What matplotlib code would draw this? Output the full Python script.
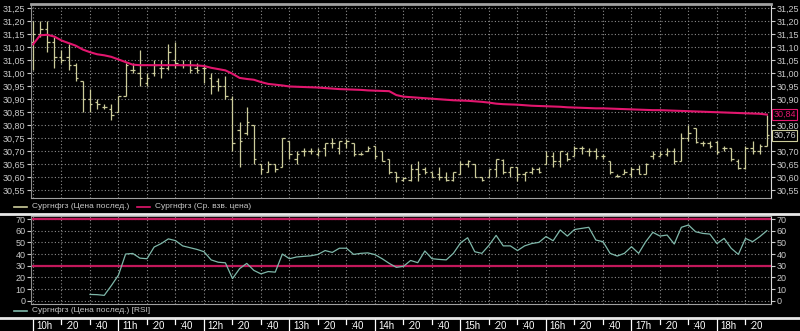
import numpy as np
import matplotlib.pyplot as plt
from matplotlib.lines import Line2D
from matplotlib.ticker import FuncFormatter, MultipleLocator

# --- data: 5-minute bars from 10:00 ---
bar_open = [31.12, 31.15, 31.17, 31.12, 31.06, 31.06, 31.03, 30.97, 30.90, 30.89,
            30.87, 30.86, 30.85, 30.91, 31.01, 31.00, 30.96, 31.00, 31.02, 31.02,
            31.05, 31.03, 31.03, 31.02, 31.02, 30.98, 30.97, 30.95, 30.90, 30.78,
            30.77, 30.80, 30.65, 30.62, 30.65, 30.64, 30.74, 30.67, 30.70, 30.70,
            30.69, 30.71, 30.73, 30.71, 30.73, 30.73, 30.69, 30.70, 30.72, 30.70,
            30.67, 30.62, 30.59, 30.59, 30.63, 30.63, 30.62, 30.61, 30.60, 30.59,
            30.61, 30.65, 30.65, 30.60, 30.60, 30.63, 30.665, 30.62, 30.64, 30.61,
            30.62, 30.63, 30.65, 30.68, 30.66, 30.69, 30.68, 30.71, 30.70, 30.70,
            30.68, 30.66, 30.605, 30.61, 30.61, 30.63, 30.61, 30.68, 30.68, 30.69,
            30.70, 30.66, 30.75, 30.79, 30.73, 30.73, 30.735, 30.71, 30.71, 30.66,
            30.635, 30.71, 30.70, 30.72]
bar_high = [31.20, 31.20, 31.20, 31.14, 31.09, 31.11, 31.04, 30.97, 30.94, 30.90,
            30.88, 30.88, 30.91, 31.04, 31.04, 31.09, 31.00, 31.05, 31.05, 31.11,
            31.12, 31.05, 31.05, 31.04, 31.03, 31.00, 30.98, 30.99, 30.91, 30.81,
            30.87, 30.80, 30.65, 30.66, 30.65, 30.75, 30.74, 30.70, 30.71, 30.71,
            30.71, 30.73, 30.75, 30.74, 30.745, 30.73, 30.695, 30.72, 30.72, 30.70,
            30.67, 30.62, 30.60, 30.65, 30.66, 30.64, 30.62, 30.64, 30.62, 30.62,
            30.66, 30.665, 30.65, 30.60, 30.63, 30.67, 30.67, 30.64, 30.64, 30.62,
            30.64, 30.64, 30.70, 30.695, 30.70, 30.695, 30.72, 30.72, 30.71, 30.71,
            30.69, 30.66, 30.61, 30.63, 30.64, 30.645, 30.655, 30.70, 30.70, 30.71,
            30.71, 30.77, 30.80, 30.79, 30.74, 30.74, 30.74, 30.72, 30.71, 30.67,
            30.72, 30.74, 30.725, 30.84]
bar_low = [31.01, 31.14, 31.08, 31.02, 31.04, 31.01, 30.97, 30.85, 30.85, 30.86,
           30.86, 30.82, 30.85, 30.91, 31.00, 30.95, 30.95, 30.99, 30.98, 31.01,
           31.02, 31.02, 31.00, 31.00, 30.96, 30.92, 30.93, 30.90, 30.70, 30.64,
           30.76, 30.65, 30.61, 30.62, 30.62, 30.64, 30.67, 30.65, 30.68, 30.69,
           30.68, 30.68, 30.71, 30.69, 30.71, 30.68, 30.685, 30.70, 30.67, 30.66,
           30.61, 30.58, 30.585, 30.585, 30.585, 30.61, 30.60, 30.59, 30.585, 30.585,
           30.61, 30.64, 30.60, 30.585, 30.60, 30.60, 30.61, 30.60, 30.585, 30.585,
           30.61, 30.615, 30.65, 30.64, 30.64, 30.66, 30.68, 30.69, 30.68, 30.67,
           30.67, 30.61, 30.60, 30.61, 30.60, 30.61, 30.61, 30.67, 30.68, 30.68,
           30.65, 30.66, 30.74, 30.73, 30.72, 30.71, 30.69, 30.70, 30.66, 30.63,
           30.63, 30.69, 30.69, 30.72]
bar_close = [31.15, 31.17, 31.12, 31.06, 31.05, 31.03, 30.98, 30.90, 30.88, 30.88,
             30.87, 30.84, 30.91, 31.03, 31.01, 30.98, 30.98, 31.03, 31.02, 31.08,
             31.04, 31.03, 31.01, 31.01, 31.02, 30.95, 30.95, 30.91, 30.73, 30.74,
             30.81, 30.67, 30.63, 30.65, 30.63, 30.75, 30.69, 30.69, 30.70, 30.70,
             30.70, 30.73, 30.73, 30.74, 30.74, 30.69, 30.69, 30.71, 30.68, 30.66,
             30.62, 30.60, 30.595, 30.63, 30.61, 30.62, 30.60, 30.60, 30.59, 30.62,
             30.65, 30.66, 30.60, 30.59, 30.63, 30.67, 30.62, 30.64, 30.61, 30.62,
             30.63, 30.62, 30.68, 30.66, 30.70, 30.67, 30.71, 30.71, 30.70, 30.68,
             30.68, 30.62, 30.605, 30.62, 30.63, 30.61, 30.65, 30.69, 30.69, 30.70,
             30.66, 30.75, 30.77, 30.735, 30.73, 30.72, 30.695, 30.71, 30.67, 30.635,
             30.71, 30.70, 30.72, 30.76]
vwap = [31.11, 31.145, 31.147, 31.14, 31.125, 31.115, 31.105, 31.09, 31.08, 31.072,
        31.068, 31.062, 31.052, 31.042, 31.032, 31.03, 31.03, 31.03, 31.03, 31.03,
        31.03, 31.03, 31.03, 31.029, 31.027, 31.02, 31.015, 31.01, 30.997, 30.981,
        30.977, 30.974, 30.965, 30.958, 30.955, 30.952, 30.948, 30.947, 30.946, 30.945,
        30.944, 30.942, 30.94, 30.938, 30.937, 30.936, 30.935, 30.933, 30.932, 30.931,
        30.93, 30.915, 30.909, 30.907, 30.905, 30.903, 30.901, 30.899, 30.897, 30.895,
        30.894, 30.893, 30.891, 30.889, 30.886, 30.882, 30.88, 30.879, 30.878, 30.876,
        30.874, 30.873, 30.872, 30.871, 30.87, 30.868, 30.867, 30.866, 30.865, 30.864,
        30.864, 30.863, 30.862, 30.861, 30.86, 30.859, 30.858, 30.857, 30.857, 30.856,
        30.855, 30.854, 30.853, 30.852, 30.851, 30.85, 30.849, 30.848, 30.847, 30.846,
        30.845, 30.844, 30.843, 30.84]
# RSI starts at the 10:40 bar
rsi_start = 8
rsi = [5.4, 5.2, 4.6, 13, 22, 40, 40.5, 36.5, 36, 46,
       49, 53, 51.5, 47, 45.5, 44, 42, 35, 33, 32.5,
       19, 27.5, 32, 26, 23, 25, 24.5, 40, 36, 37.5,
       38, 38.5, 39.7, 43, 41.4, 45, 45, 39.7, 40.6, 41,
       39.5, 36, 32, 28.6, 29.5, 34.5, 32.6, 42.6, 36, 35.4,
       35, 40.6, 49.5, 54, 42, 40.6, 47.5, 56, 47, 47,
       43, 47, 49, 50, 55, 51.4, 60.6, 55.4, 61, 62,
       62.9, 52, 50.6, 40.6, 38.3, 40.6, 46.3, 40.6, 50.6, 58.6,
       55.4, 56.3, 48.6, 62.9, 64.9, 59.1, 57.7, 57.1, 49, 53.4,
       44.9, 39.7, 53.4, 50.6, 54.9, 60]
rsi_levels = [30, 70]

time_ticks = list(range(0, 520, 20))          # minutes after 10:00
time_labels = [f"{10 + m // 60}h" if m % 60 == 0 else f":{m % 60:02d}" for m in time_ticks]

legend_price = 'Сургнфгз (Цена послед.)'
legend_vwap = 'Сургнфгз (Ср. взв. цена)'
legend_rsi = 'Сургнфгз (Цена послед.) [RSI]'

# --- style ---
BG = 'black'
BAR = '#cccc9a'
PINK = '#e2166e'
LEVEL = '#c2185b'
RSI_C = '#7fb8aa'
TXT = '#c8c8c8'
GRID = '#8c8c8c'
plt.rcParams['font.family'] = ['Liberation Sans', 'DejaVu Sans']

t = np.arange(len(bar_close)) * 5.0
t_rsi = (np.arange(len(rsi)) + rsi_start) * 5.0

W, H = 800, 331
fig = plt.figure(figsize=(W / 100, H / 100), dpi=100, facecolor=BG)


def box(x0, y0, x1, y1):
    return [x0 / W, 1 - y1 / H, (x1 - x0) / W, (y1 - y0) / H]


ax1 = fig.add_axes(box(31, 4, 771, 198))
ax2 = fig.add_axes(box(31, 216, 771, 304))
ax3 = fig.add_axes(box(31, 319, 771, 331))

comma = FuncFormatter(lambda v, p: f"{v:.2f}".replace('.', ','))

for ax in (ax1, ax2):
    ax.set_facecolor(BG)
    ax.set_xlim(-1.4, 517.9)
    ax.set_xticks(time_ticks)
    ax.tick_params(axis='x', length=0, labelbottom=False)
    ax.tick_params(axis='y', left=True, right=True, labelleft=True, labelright=True,
                   colors=TXT, labelsize=6.5, length=3, width=0.8, pad=1)
    ax.grid(True, color=GRID, linestyle=(0, (1, 2)), linewidth=0.8)
    ax.spines['left'].set_color(GRID)
    ax.spines['left'].set_linestyle((0, (1, 1)))
    ax.spines['bottom'].set_color('#a0a0a0')
    ax.spines['bottom'].set_linewidth(0.8)
    ax.spines['right'].set_color('#d8d8d8')
    ax.spines['right'].set_linewidth(0.8)
    ax.spines['top'].set_color('#a0a0a0')

# price panel
ax1.set_ylim(30.519, 31.2654)
ax1.yaxis.set_major_locator(MultipleLocator(0.05))
ax1.yaxis.set_major_formatter(comma)
ax1.spines['top'].set_linewidth(2)
ax1.vlines(t, bar_low, bar_high, color=BAR, linewidth=0.9)
ax1.hlines(bar_open, t - 1.7, t, color=BAR, linewidth=0.9)
ax1.hlines(bar_close, t, t + 1.7, color=BAR, linewidth=0.9)
ax1.plot(t, vwap, color=PINK, linewidth=1.5)

# last-value boxes on the right axis; they hide the tick labels under them
last_marks = [(vwap[-1], PINK, PINK), (bar_close[-1], TXT, BAR)]
fig.canvas.draw()
for tk in ax1.yaxis.get_major_ticks():
    if any(abs(tk.get_loc() - v) < 0.02 for v, _, _ in last_marks):
        tk.label2.set_visible(False)
for v, tc, ec in last_marks:
    ax1.text(1.003, v, f"{v:.2f}".replace('.', ','), transform=ax1.get_yaxis_transform(),
             color=tc, fontsize=6.5, va='center', ha='left', zorder=10, clip_on=False,
             bbox=dict(boxstyle='square,pad=0.15', fc=BG, ec=ec, lw=0.8))

# rsi panel
ax2.set_ylim(-2.8, 72.6)
ax2.set_yticks(range(0, 80, 10))
for lv in rsi_levels:
    ax2.axhline(lv, color=LEVEL, linewidth=1.6)
ax2.plot(t_rsi, rsi, color=RSI_C, linewidth=0.9)

# time strip
ax3.set_facecolor(BG)
ax3.set_xlim(-1.4, 517.9)
ax3.set_ylim(0, 1)
for s in ax3.spines.values():
    s.set_visible(False)
ax3.set_yticks([])
ax3.set_xticks([])
for m, lab in zip(time_ticks, time_labels):
    top = 0.0 if m % 60 == 0 else 0.6
    ax3.plot([m, m], [top, 1], color='white', linewidth=0.9)
    ax3.text(m + 2.6, 0.42, lab, color='white', fontsize=7, va='center', ha='left')

# separators and legend rows
for yy in (214, 317.5):
    fig.add_artist(Line2D([0, 1], [1 - yy / H] * 2, color='#e8e8e8', linewidth=2.0))


def legend_row(x0, y, color, label):
    fig.add_artist(Line2D([x0 / W, (x0 + 13) / W], [1 - y / H] * 2, color=color, linewidth=1.2))
    fig.text((x0 + 18) / W, 1 - y / H, label, color=TXT, fontsize=6, va='center', ha='left')


legend_row(14, 207, BAR, legend_price)
legend_row(137, 207, PINK, legend_vwap)
legend_row(14, 311, RSI_C, legend_rsi)

fig.savefig('out.png', dpi=100, facecolor=BG)
